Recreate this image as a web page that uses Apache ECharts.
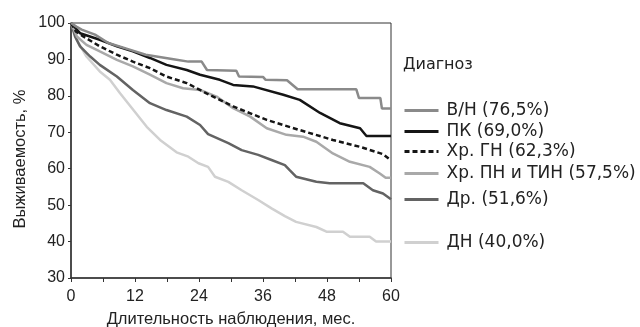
<!DOCTYPE html>
<html>
<head>
<meta charset="utf-8">
<script src="https://cdn.jsdelivr.net/npm/echarts@6/dist/echarts.min.js"></script>
<style>
  html, body { margin: 0; padding: 0; background: #fff; }
  #chart { width: 640px; height: 327px; }
</style>
</head>
<body>
<div id="chart"></div>
<script>
// Kaplan–Meier survival by diagnosis: [month, survival %]
const seriesNames = ['В/Н (76,5%)', 'ПК (69,0%)', 'Хр. ГН (62,3%)', 'Хр. ПН и ТИН (57,5%)', 'Др. (51,6%)', 'ДН (40,0%)'];

const survVN = [[0,100],[1,99],[2,98.2],[4.5,96.8],[7,94.5],[11,92.7],[14,91.3],[19.5,90],[22,89.4],[24.5,89.4],[25.5,87.1],[31,86.9],[31.5,85.3],[36,85.2],[36.5,84.4],[40.5,84.3],[42.5,81.8],[53.5,81.8],[54,79.4],[58,79.4],[58.3,76.5],[60,76.5]];
const survPK = [[0,100],[1.7,97.2],[5.4,95.4],[8.6,93.6],[11.6,92.2],[14.8,90.4],[17.9,88.5],[21.7,87.1],[24.2,85.8],[27.9,84.4],[30.4,83],[34.1,82.6],[39.8,80.3],[42.9,78.9],[46.7,75.3],[50.4,72.5],[54.2,71.1],[55.4,69.0],[60,69.0]];
const survGN = [[0,100],[0.9,97.7],[2.3,96.3],[5.4,93.6],[8.6,91.3],[11.6,89.4],[14.8,87.6],[17.9,85.3],[21.7,83.5],[25.4,80.7],[27.9,78.9],[30.4,77.1],[36.7,73.4],[42.9,70.6],[49.1,67.9],[54.2,66],[58.5,64],[60,62.3]];
const survPN = [[0,100],[1.1,96.3],[2.9,94],[5.4,92.2],[8.6,89.9],[11.6,88.1],[14.8,85.8],[17.9,83.5],[21,82.1],[24.2,81.6],[27.3,79.8],[30.4,76.6],[33.6,74.3],[36.7,71.1],[40.4,69.3],[43.5,68.8],[46,67.4],[49.1,64.2],[52.3,61.9],[56,60.5],[57.9,58.7],[59,57.5],[60,57.5]];
const survDr = [[0,100],[0.75,96.3],[1.7,93.6],[3.6,90.8],[5.4,88.5],[8.6,85.3],[11.6,81.6],[14.8,78],[17.9,76.1],[21.7,74.3],[24.2,72],[25.7,69.5],[29.5,67],[32,65.1],[35.1,63.8],[37.6,62.4],[40.1,61],[41,59.6],[42.2,57.8],[46,56.4],[48.5,56],[54.8,56],[56.6,54.1],[58.5,53.2],[60,51.6]];
const survDN = [[0,100],[1.1,95.4],[2.9,90.8],[5.4,86.7],[7.3,84.4],[9.2,80.7],[11.7,76.1],[14.2,71.5],[16.7,67.9],[19.8,64.5],[22,63.3],[23.9,61.5],[25.7,60.5],[27,57.8],[29.5,56.4],[32,54.1],[35.1,51.4],[37.6,49.1],[40.1,47],[42.2,45.4],[46,44],[47.9,42.7],[51,42.7],[52.3,41.3],[56,41.3],[57.2,40],[60,40]];

const xTicks = [0, 12, 24, 36, 48, 60];
const yTicks = [30, 40, 50, 60, 70, 80, 90, 100];

const allData = [survVN, survPK, survGN, survPN, survDr, survDN];
const styles = [
  { color: '#8a8a8a', type: 'solid' },
  { color: '#151515', type: 'solid' },
  { color: '#151515', type: [5, 3] },
  { color: '#a9a9a9', type: 'solid' },
  { color: '#636363', type: 'solid' },
  { color: '#d0d0d0', type: 'solid' }
];
const legendRows = [110, 131, 151, 173, 199, 242];

const font = 'Liberation Sans, Arial, sans-serif';
const legendFont = 'DejaVu Sans, sans-serif';
const chart = echarts.init(document.getElementById('chart'), null, { renderer: 'canvas' });

chart.setOption({
  animation: false,
  backgroundColor: '#fff',
  grid: {
    left: 71, top: 23, right: 249, bottom: 49,
    outerBoundsMode: 'none', containLabel: false,
    show: true, borderColor: '#333', borderWidth: 1
  },
  xAxis: {
    type: 'value', min: 0, max: 60, interval: 6,
    name: 'Длительность наблюдения, мес.', nameLocation: 'middle', nameGap: 33,
    nameTextStyle: { fontFamily: font, fontSize: 16.5, color: '#222' },
    axisLine: { show: true, lineStyle: { color: '#333', width: 1.5 } },
    axisTick: { show: true, length: 4, lineStyle: { color: '#333' } },
    axisLabel: {
      fontFamily: font, fontSize: 16, color: '#222', margin: 11,
      formatter: v => (xTicks.indexOf(v) >= 0 ? String(v) : '')
    },
    splitLine: { show: false }
  },
  yAxis: {
    type: 'value', min: 30, max: 100, interval: 10,
    axisLine: { show: true, lineStyle: { color: '#333', width: 1.5 } },
    axisTick: { show: true, length: 3, lineStyle: { color: '#333' } },
    axisLabel: {
      fontFamily: font, fontSize: 16, color: '#222', margin: 6,
      formatter: v => (yTicks.indexOf(v) >= 0 ? String(v) : '')
    },
    splitLine: { show: false }
  },
  legend: seriesNames.map((n, i) => ({
    data: [n], left: 403, top: legendRows[i] - 8, orient: 'vertical',
    itemWidth: 34, itemHeight: 16, itemGap: 8, padding: 0,
    selectedMode: false,
    itemStyle: { opacity: 0 },
    lineStyle: { width: 3 },
    textStyle: { fontFamily: legendFont, fontSize: 17, color: '#222', padding: [0, 0, 0, 3] }
  })),
  graphic: [
    {
      type: 'text', left: 403, top: 57,
      style: { text: 'Диагноз', font: '16px ' + legendFont, fill: '#222' }
    },
    {
      type: 'text', x: 20, y: 159, rotation: Math.PI / 2,
      style: {
        text: 'Выживаемость, %', font: '16.5px ' + font, fill: '#222',
        align: 'center', verticalAlign: 'middle'
      }
    }
  ],
  series: allData.map((d, i) => ({
    name: seriesNames[i], type: 'line', data: d,
    symbol: 'none', smooth: false,
    lineStyle: { width: 2.5, color: styles[i].color, type: styles[i].type },
    itemStyle: { color: styles[i].color },
    z: 10 - i
  }))
});
</script>
</body>
</html>
